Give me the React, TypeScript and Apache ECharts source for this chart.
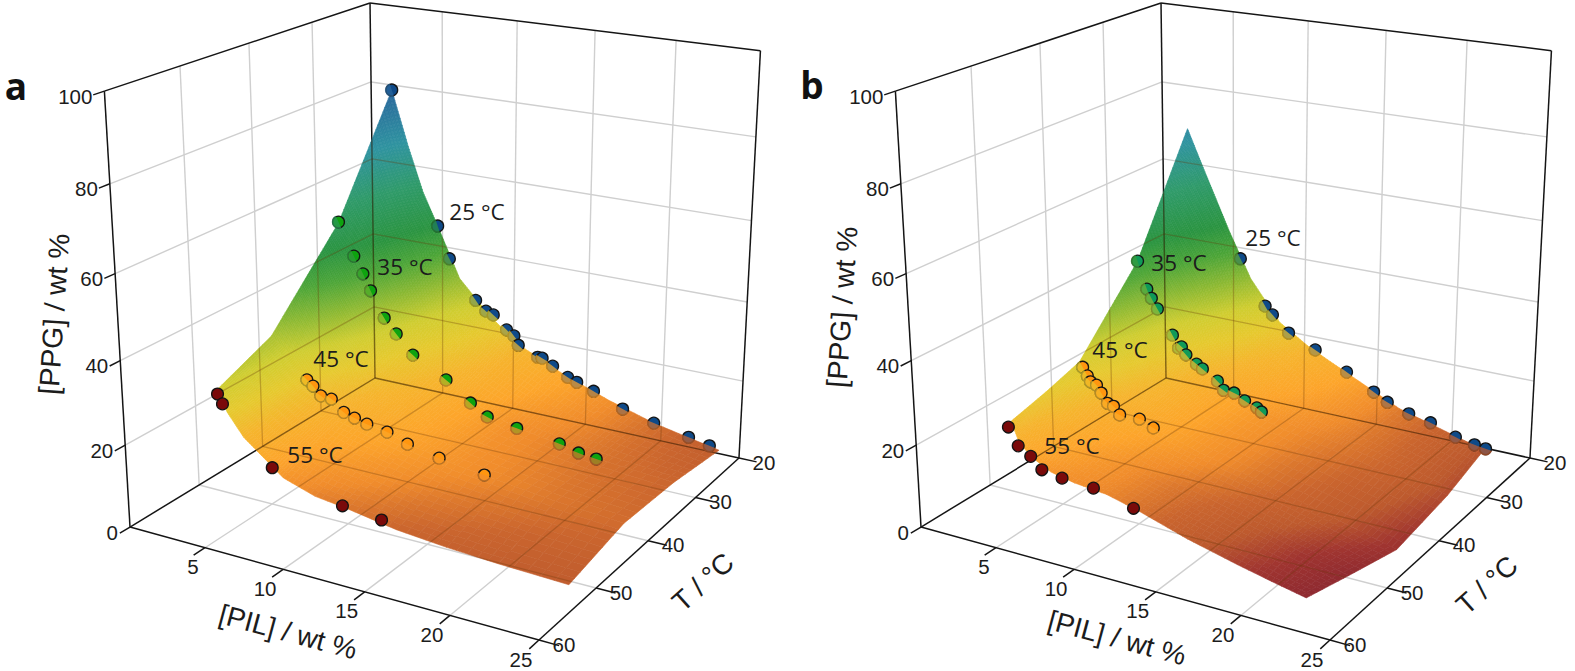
import React, { useEffect, useRef } from "react";
import * as echarts from "echarts";

// ---------- readings: [PIL wt %, PPG wt %] ----------
const aDots25 = [[3.4,82.5],[6.5,50],[7.3,42.1],[9.1,32.6],[9.8,30.3],[10.3,29.7],[11.2,26.5],[11.7,25.3],[12,23.1],[13.3,21],[13.6,21],[14.3,19.5],[15.3,17.4],[15.9,16.6],[17,15.2],[18.9,12.2],[20.9,10.3],[23.1,8.6],[24.4,7.6]];
const aDots35 = [[3.6,56.2],[4.6,48.4],[5.2,44.4],[5.7,40.5],[6.6,34.3],[7.4,30.9],[8.5,26.4],[10.7,21.9],[12.3,17.4],[13.4,14.8],[15.3,13.6],[18,12.1],[19.2,10.9],[20.3,10.4]];
const aDots45 = [[5.4,26.5],[5.8,25.3],[6.3,23.3],[7,23.1],[7.8,20.5],[8.5,19.7],[9.3,18.9],[10.6,18.1],[11.9,16.3],[13.9,14.7],[16.7,13.2]];
const aDots55 = [[3.9,30.9],[4.2,28.8],[7.3,16.3],[11.7,11.4],[14.1,10.4]];
const bDots25 = [[7.3,42.1],[9,31],[9.5,29.1],[10.6,25.2],[12.4,22.2],[14.5,18.1],[16.3,14.4],[17.2,12.5],[18.6,10.7],[20,9.6],[21.6,7.3],[22.8,6.4],[23.5,6]];
const bDots35 = [[4.1,46.8],[4.7,40.2],[5,38.1],[5.4,35.7],[6.4,29.8],[6.8,26.8],[7,27.3],[7.3,25.5],[8,23.7],[8.4,22.8],[9.4,20.5],[9.8,18.5],[10.5,18.4],[11.2,17],[12,15.9],[12.3,15.1]];
const bDots45 = [[4.4,28.8],[4.7,26.9],[4.9,25.6],[5.3,25.1],[5.6,23.4],[6,21.2],[6.4,20.8],[6.8,19],[8.1,19.1],[9,17.7]];
const bDots55 = [[3.8,22.9],[4.4,18.9],[5.2,17.1],[5.9,14.5],[7.2,13.7],[9.2,13.2],[11.7,10.8]];

// ---------- surface tables, one row per temperature ----------
const aRowT = [25,35,45,55];
const aRowPil = [
  [3.4,4.5,5.5,6.5,8,10,12,15,18,21,25],
  [3.6,4.5,5.5,6.5,8,10,12,15,18,21,25],
  [3.1,4.5,5.5,6.5,8,10,12,15,18,21,25],
  [3.9,4.5,5.5,6.5,8,10,12,15,18,21,25],
];
const aRowPpg = [
  [82.5,69,58,50,37.5,29.5,23.3,18,13.7,10.2,7],
  [56,49,42,35,28,23,18.5,14,12,10.3,9],
  [35.5,31.5,26,23,20.3,18.3,16.3,14,12.5,11,9.7],
  [32,27,22,19,14.5,12,11,9,7.9,7.2,6.6],
];
const bRowT = [25,35,45,50,55];
const bRowPil = [
  [3.7,4.5,5.5,6.5,8,10,12,15,18,21,23.4],
  [4.1,4.5,5.5,6.5,8,10,12,15,18,21,24],
  [4.2,4.5,5.5,6.5,8,10,12,15,18,21,24],
  [4.1,4.5,5.5,6.5,8,10,12,15,18,20,22.8],
  [4,4.5,5.5,6.5,8,10,12,15,18,20,22],
];
const bRowPpg = [
  [73,66,57.5,49,37.5,27.5,22.6,17,11.5,8.2,5.6],
  [46.8,42.5,35,29,23.7,18.5,15.8,13,11,8.5,4.8],
  [30,28,24,20.5,19,16.5,14.3,11.5,8.5,5.5,2.4],
  [27,24.5,20.5,18,15.5,13,11.2,8.5,5.5,3.3,0.6],
  [24.5,19.5,16.5,14.5,13.3,12.5,10.5,6.8,3.8,2,0.3],
];

// ---------- axis ticks ----------
const pilTicks = [5,10,15,20,25];
const tempTicks = [20,30,40,50,60];
const ppgTicks = [0,20,40,60,80,100];
const colorZ = [0,3,6,9,11,13,17,22,27,32,38,44,50,60,70,82];
const colorHex = ["#8c2830","#a03530","#bd5a2e","#ca652e","#db772d","#f08c2c","#fda52b","#f6b42d","#e6c92e","#cfcd30","#8cb933","#4ca538","#2a9440","#2f9a6a","#2f93a0","#2a689c"];

// ---------- camera ----------
function project(pil:number, t:number, ppg:number, dx:number):number[] {
  const x = pil/25, y = (t-20)/40, z = ppg/100;
  const w = 1 - .0867*x - .1524*y - .063*z;
  return [(375 + 299.9*x - 264.8*y - 28.3*z)/w + dx, (378 + 40.3*x + 68.7*y - 375.2*z)/w];
}
function toRgb(h:string){return [1,3,5].map(i=>parseInt(h.slice(i,i+2),16));}
function colorAt(z:number):string {
  if (z<=colorZ[0]) return colorHex[0];
  for (let i=1;i<colorZ.length;i++) if (z<=colorZ[i]) {
    const f=(z-colorZ[i-1])/(colorZ[i]-colorZ[i-1]);
    const a=toRgb(colorHex[i-1]), b=toRgb(colorHex[i]);
    return `rgb(${a.map((v,k)=>Math.round(v+(b[k]-v)*f)).join(",")})`;
  }
  return colorHex[colorHex.length-1];
}

const SANS = '"Liberation Sans", Arial, sans-serif';
const NOTE = '"Open Sans", sans-serif';

type Seg = number[]; // pil,t,ppg,pil,t,ppg
function gridSegs():Seg[] {
  const s:Seg[]=[];
  for (const p of [5,10,15,20]) { s.push([p,20,0,p,60,0]); s.push([p,20,0,p,20,100]); }
  for (const t of [30,40,50]) { s.push([0,t,0,25,t,0]); s.push([0,t,0,0,t,100]); }
  for (const v of [20,40,60,80]) { s.push([0,60,v,0,20,v]); s.push([0,20,v,25,20,v]); }
  return s;
}
function axisSegs():Seg[] {
  const s:Seg[]=[[0,60,0,25,60,0],[25,60,0,25,20,0],[0,60,0,0,20,0],[0,20,0,25,20,0],[0,60,0,0,60,100],[0,60,100,0,20,100],[0,20,100,25,20,100],[0,20,0,0,20,100],[25,20,0,25,20,100]];
  for (const p of pilTicks) s.push([p,60,0,p,61.6,0]);
  for (const t of tempTicks) s.push([25,t,0,26.1,t,0]);
  for (const v of ppgTicks) s.push([0,60,v,0,61.4,v]);
  return s;
}

interface Note { text:string; x:number; y:number; rot:number; size:number; font:string; weight?:string; align?:string; fill?:string }

function panel(dx:number, rowT:number[], rowPil:number[][], rowPpg:number[][], dots:{t:number,pts:number[][],col:string,tint:boolean}[], notes:Note[]):any[] {
  const grid = gridSegs(), axes = axisSegs();
  const ln = (api:any, s:Seg, style:any) => {
    const a = api.coord(project(s[0],s[1],s[2],dx)), b = api.coord(project(s[3],s[4],s[5],dx));
    return {type:"line",silent:true,shape:{x1:a[0],y1:a[1],x2:b[0],y2:b[1]},style};
  };
  const base:any = {type:"custom",coordinateSystem:"cartesian2d",silent:true,animation:false,clip:false};
  const cells:number[][]=[];
  for (let r=0;r<rowT.length-1;r++) for (let c=0;c<rowPil[0].length-1;c++) cells.push([r,c]);
  const out:any[]=[];
  out.push({...base,z:2,data:grid.map((_,i)=>[i,0]),renderItem:(p:any,api:any)=>ln(api,grid[p.dataIndex],{stroke:"#cfcfcf",lineWidth:1.4})});
  out.push({...base,z:3,data:axes.map((_,i)=>[i,0]),renderItem:(p:any,api:any)=>ln(api,axes[p.dataIndex],{stroke:"#151515",lineWidth:1.5})});
  out.push({...base,z:4,data:cells,renderItem:(p:any,api:any)=>{
    const [r,c]=cells[p.dataIndex];
    const dzR=Math.max(Math.abs(rowPpg[r][c]-rowPpg[r+1][c]),Math.abs(rowPpg[r][c+1]-rowPpg[r+1][c+1]));
    const dzC=Math.max(Math.abs(rowPpg[r][c]-rowPpg[r][c+1]),Math.abs(rowPpg[r+1][c]-rowPpg[r+1][c+1]));
    const NR=Math.min(30,Math.max(8,Math.ceil(dzR/.4)));
    const NC=Math.min(16,Math.max(5,Math.ceil(dzC/.4)));
    const pt=(u:number,v:number)=>{
      const pil=(rowPil[r][c]*(1-v)+rowPil[r][c+1]*v)*(1-u)+(rowPil[r+1][c]*(1-v)+rowPil[r+1][c+1]*v)*u;
      const ppg=(rowPpg[r][c]*(1-v)+rowPpg[r][c+1]*v)*(1-u)+(rowPpg[r+1][c]*(1-v)+rowPpg[r+1][c+1]*v)*u;
      const t=rowT[r]*(1-u)+rowT[r+1]*u;
      return {xy:api.coord(project(pil,t,ppg,dx)),ppg};
    };
    const children:any[]=[];
    for(let i=0;i<NR;i++)for(let j=0;j<NC;j++){
      const q=[pt(i/NR,j/NC),pt(i/NR,(j+1)/NC),pt((i+1)/NR,(j+1)/NC),pt((i+1)/NR,j/NC)];
      const col=colorAt((q[0].ppg+q[1].ppg+q[2].ppg+q[3].ppg)/4);
      children.push({type:"polygon",silent:true,shape:{points:q.map(e=>e.xy)},style:{fill:col,stroke:col,lineWidth:.6}});
    }
    return {type:"group",silent:true,children};
  }});
  out.push({...base,z:5,data:[[0,0]],renderItem:(_:any,api:any)=>{
    const last=rowT.length-1, nc=rowPil[0].length-1;
    const o:number[][]=[];
    for(let c=0;c<=nc;c++)o.push(project(rowPil[0][c],rowT[0],rowPpg[0][c],dx));
    for(let r=1;r<=last;r++)o.push(project(rowPil[r][nc],rowT[r],rowPpg[r][nc],dx));
    for(let c=nc-1;c>=0;c--)o.push(project(rowPil[last][c],rowT[last],rowPpg[last][c],dx));
    for(let r=last-1;r>0;r--)o.push(project(rowPil[r][0],rowT[r],rowPpg[r][0],dx));
    return {type:"group",silent:true,clipPath:{type:"polygon",shape:{points:o.map(e=>api.coord(e))}},children:[
      ...grid.map(s=>ln(api,s,{stroke:"rgba(105,55,10,0.3)",lineWidth:1.3})),
      ...axes.map(s=>ln(api,s,{stroke:"rgba(50,25,0,0.55)",lineWidth:1.4})),
    ]};
  }});
  const flat:{t:number,pt:number[],col:string,tint:boolean,prev:number[],next:number[]}[]=[];
  for(const d of dots) d.pts.forEach((pt,i)=>flat.push({t:d.t,pt,col:d.col,tint:d.tint,prev:d.pts[Math.max(i-1,0)],next:d.pts[Math.min(i+1,d.pts.length-1)]}));
  out.push({...base,z:6,data:flat.map((_,i)=>[i,0]),renderItem:(p:any,api:any)=>{
    const d=flat[p.dataIndex];
    const c=api.coord(project(d.pt[0],d.t,d.pt[1],dx));
    const a=api.coord(project(d.prev[0],d.t,d.prev[1],dx)), b=api.coord(project(d.next[0],d.t,d.next[1],dx));
    const phi=Math.atan2(b[0]-a[0],-(b[1]-a[1]));
    const children:any[]=[{type:"circle",silent:true,shape:{cx:c[0],cy:c[1],r:5.9},style:{fill:d.col,stroke:"#141414",lineWidth:1.3}}];
    if(d.tint)children.push({type:"sector",silent:true,shape:{cx:c[0],cy:c[1],r0:0,r:6.8,startAngle:phi-Math.PI/2,endAngle:phi+Math.PI/2,clockwise:true},style:{fill:colorAt(d.pt[1]),opacity:.72}});
    return {type:"group",silent:true,children};
  }});
  const texts:any[]=[];
  for(const v of ppgTicks){const q=project(0,60,v,dx);texts.push({text:String(v),x:q[0]-12,y:q[1]+5,rot:0,size:20.5,font:SANS,align:"right"});}
  for(const v of pilTicks){const q=project(v,60,0,dx);texts.push({text:String(v),x:q[0]-(v===5?12:18),y:q[1]+19,rot:0,size:20.5,font:SANS,align:"center"});}
  for(const v of tempTicks){const q=project(25,v,0,dx);texts.push({text:String(v),x:q[0]+25,y:q[1]+4,rot:0,size:20.5,font:SANS,align:"center"});}
  for(const n of notes)texts.push({...n,x:n.x+dx});
  out.push({...base,z:7,data:texts.map((_,i)=>[i,0]),renderItem:(p:any,api:any)=>{
    const n=texts[p.dataIndex];
    const q=api.coord([n.x,n.y]);
    return {type:"text",silent:true,x:q[0],y:q[1],rotation:n.rot,style:{text:n.text,fill:n.fill||"#1c1c1c",font:`${n.weight||"normal"} ${n.size}px ${n.font}`,align:n.align||"center",verticalAlign:"middle"}};
  }});
  return out;
}

const deg = Math.PI/180;
const aNotes:Note[] = [
  {text:"a",x:16,y:85,rot:0,size:37,font:NOTE,weight:"bold",fill:"#111"},
  {text:"[PPG] / wt %",x:54,y:314,rot:86*deg,size:28.5,font:SANS},
  {text:"[PIL] / wt %",x:288,y:632,rot:-15*deg,size:28,font:SANS},
  {text:"T / °C",x:703,y:582,rot:42*deg,size:28,font:SANS},
  {text:"25 °C",x:477,y:211,rot:0,size:22.5,font:NOTE},
  {text:"35 °C",x:405,y:266,rot:0,size:22.5,font:NOTE},
  {text:"45 °C",x:341,y:358,rot:0,size:22.5,font:NOTE},
  {text:"55 °C",x:315,y:454,rot:0,size:22.5,font:NOTE},
];
const bNotes:Note[] = [
  {text:"b",x:21,y:84,rot:0,size:37,font:NOTE,weight:"bold",fill:"#111"},
  {text:"[PPG] / wt %",x:51,y:307,rot:86*deg,size:28.5,font:SANS},
  {text:"[PIL] / wt %",x:326,y:638,rot:-15*deg,size:28,font:SANS},
  {text:"T / °C",x:696,y:585,rot:42*deg,size:28,font:SANS},
  {text:"25 °C",x:482,y:237,rot:0,size:22.5,font:NOTE},
  {text:"35 °C",x:388,y:262,rot:0,size:22.5,font:NOTE},
  {text:"45 °C",x:329,y:349,rot:0,size:22.5,font:NOTE},
  {text:"55 °C",x:281,y:445,rot:0,size:22.5,font:NOTE},
];

export default function App() {
  const ref = useRef<HTMLDivElement>(null);
  useEffect(() => {
    const chart = echarts.init(ref.current!, undefined, { renderer: "svg" });
    chart.setOption({
      animation:false,
      backgroundColor:"#ffffff",
      grid:{left:0,right:0,top:0,bottom:0},
      xAxis:{type:"value",min:0,max:1575,show:false},
      yAxis:{type:"value",min:0,max:671,inverse:true,show:false},
      series:[
        ...panel(0,aRowT,aRowPil,aRowPpg,[
          {t:25,pts:aDots25,col:"#0f4a88",tint:true},
          {t:35,pts:aDots35,col:"#0ea30f",tint:true},
          {t:45,pts:aDots45,col:"#ff960f",tint:true},
          {t:55,pts:aDots55,col:"#7a0a0a",tint:false},
        ],aNotes),
        ...panel(791,bRowT,bRowPil,bRowPpg,[
          {t:25,pts:bDots25,col:"#0f4a88",tint:true},
          {t:35,pts:bDots35,col:"#0f9a58",tint:true},
          {t:45,pts:bDots45,col:"#ff960f",tint:true},
          {t:55,pts:bDots55,col:"#7a0a0a",tint:false},
        ],bNotes),
      ],
    });
    return () => chart.dispose();
  }, []);
  return <div ref={ref} style={{position:"fixed",left:0,top:0,width:1575,height:671}} />;
}
